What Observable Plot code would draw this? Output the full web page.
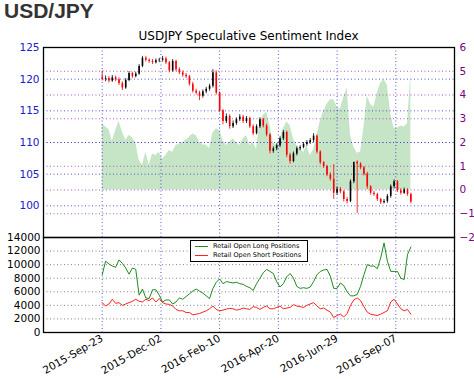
<!DOCTYPE html>
<html><head><meta charset="utf-8">
<script src="https://cdn.jsdelivr.net/npm/d3@7"></script>
<script src="https://cdn.jsdelivr.net/npm/@observablehq/plot@0.6"></script>
<style>
body{margin:0;background:#fff}
#wrap{position:relative;width:474px;height:379px;overflow:hidden;font-family:"DejaVu Sans",sans-serif}
#wrap svg.layer{position:absolute;left:0;top:0}
#hdr{position:absolute;left:4px;top:0px;line-height:21px;font:bold 21px/21px "Liberation Sans",Arial,sans-serif;color:#333}
#ttl{position:absolute;left:43px;width:411px;top:29px;text-align:center;font:12px "DejaVu Sans",sans-serif;color:#000}
#legend{position:absolute;left:190px;top:240px;width:118px;height:22px;border:1px solid #000;background:#fff;box-sizing:border-box;font:6.5px "DejaVu Sans",sans-serif}
#legend .row{position:absolute;left:4px;height:8px;line-height:8px;white-space:nowrap}
#legend .sw{display:inline-block;width:13px;height:0;vertical-align:middle;margin-right:5px}
</style></head>
<body>
<div id="wrap">
  <div id="hdr">USD/JPY</div>
  <div id="ttl">USDJPY Speculative Sentiment Index</div>
</div>
<script>
// ---- data (one value every 4 calendar days starting 2015-09-23) ----
const seriesStart = "2015-09-23";
const stepDays = 4;
const priceOpen = [120.3,120.0,120.1,119.7,120.2,119.9,119.3,118.6,119.8,120.9,
120.4,120.8,122.0,123.3,123.0,122.8,122.6,122.9,123.0,123.2,
122.6,121.3,122.8,121.5,121.0,120.6,120.4,119.2,118.1,117.8,
117.3,118.0,118.4,118.9,121.0,117.8,115.0,113.3,114.1,112.5,
113.0,113.6,114.0,113.3,113.8,112.5,111.4,112.5,113.6,112.6,
111.2,108.6,109.0,109.5,110.6,111.6,108.0,107.0,108.2,109.0,
109.2,109.7,110.0,110.3,111.0,108.5,106.8,106.2,104.9,104.2,
102.0,102.6,102.2,101.0,100.7,103.8,106.9,106.6,106.0,105.0,
103.0,102.0,101.8,101.0,100.5,100.7,101.5,103.0,103.8,102.4,
102.0,102.5,101.8];
const priceHigh = [121.3,120.5,120.4,120.6,120.5,120.2,119.6,120.1,121.2,121.1,
121.1,122.3,123.6,123.6,123.2,123.1,123.2,123.3,123.6,123.5,
122.8,123.1,123.0,121.8,121.3,120.9,120.6,119.5,118.4,118.1,
118.3,118.7,119.2,121.5,121.3,118.0,115.2,114.5,114.4,113.4,
113.9,114.4,114.3,114.1,114.0,112.8,112.8,113.9,113.8,112.9,
111.4,109.3,109.8,110.9,111.9,111.8,108.3,108.5,109.3,109.5,
110.0,110.3,110.6,111.4,111.2,108.7,107.0,106.4,105.2,106.5,
103.0,102.9,102.4,101.3,104.1,106.3,107.1,106.8,106.2,105.3,
103.2,102.3,102.0,101.2,101.0,101.8,103.3,104.1,104.0,102.7,
102.8,102.7,102.0];
const priceLow = [119.7,119.6,119.4,119.5,119.6,119.0,118.2,118.4,119.6,120.1,
120.2,120.6,121.8,122.7,122.5,122.3,122.4,122.6,122.7,122.3,
121.0,121.1,121.2,120.7,120.3,120.1,118.9,117.8,117.5,116.6,
117.0,117.7,118.1,118.6,117.5,114.7,112.8,113.0,112.1,112.2,
112.7,113.3,113.0,113.0,112.2,111.1,111.2,112.2,112.3,110.9,
108.2,108.3,108.7,109.2,110.3,107.6,106.6,106.8,107.9,108.7,
109.0,109.4,109.7,110.0,108.2,106.5,105.9,104.6,103.9,101.0,
101.7,101.9,100.6,100.3,100.5,103.5,98.8,105.7,104.7,102.6,
101.7,101.5,100.7,100.2,100.3,100.4,101.2,102.7,102.1,101.7,
101.8,101.5,100.3];
const priceClose = [120.0,120.1,119.7,120.2,119.9,119.3,118.6,119.8,120.9,120.4,
120.8,122.0,123.3,123.0,122.8,122.6,122.9,123.0,123.2,122.6,
121.3,122.8,121.5,121.0,120.6,120.4,119.2,118.1,117.8,117.3,
118.0,118.4,118.9,121.0,117.8,115.0,113.3,114.1,112.5,113.0,
113.6,114.0,113.3,113.8,112.5,111.4,112.5,113.6,112.6,111.2,
108.6,109.0,109.5,110.6,111.6,108.0,107.0,108.2,109.0,109.2,
109.7,110.0,110.3,111.0,108.5,106.8,106.2,104.9,104.2,102.0,
102.6,102.2,101.0,100.7,103.8,106.9,106.6,106.0,105.0,103.0,
102.0,101.8,101.0,100.5,100.7,101.5,103.0,103.8,102.4,102.0,
102.5,101.8,100.6];
const sentiment = [2.79,2.65,2.55,2.05,2.50,2.90,2.45,2.10,2.30,2.20,
2.00,1.25,1.05,1.59,1.05,1.52,1.45,1.59,1.31,1.45,
1.66,1.59,1.87,1.94,2.01,2.08,2.22,2.36,2.29,2.01,
1.90,1.90,1.75,2.40,2.58,2.50,2.10,1.87,2.00,2.15,
2.00,1.87,2.15,2.29,1.87,2.00,1.72,2.86,3.14,3.28,
2.72,2.00,1.87,2.15,2.58,2.86,2.72,2.15,1.87,1.72,
1.58,1.87,1.45,1.70,2.30,2.90,3.30,3.60,3.80,3.80,
3.50,3.40,3.90,4.30,2.30,1.80,1.55,1.60,2.60,3.95,
3.60,3.50,4.10,4.50,4.65,4.40,3.20,2.60,2.60,2.70,
2.65,2.80,4.90];
const longPositions = [8500,10500,10100,9800,9600,10700,10200,9500,8600,9500,
9300,5500,6400,5100,5000,6300,6300,5500,4500,4800,
4800,4200,4500,5100,4900,5300,5700,6100,6400,6100,
5800,5400,5000,6500,7400,7900,7200,7500,7400,7300,
7400,7200,7100,6800,6600,6200,7200,8000,8800,9300,
9000,8700,7500,6700,7200,8200,8700,8000,6800,6500,
6600,6500,6700,7500,8500,9000,9200,9300,8300,6500,
6500,7300,6900,6000,5400,5400,5600,6800,8500,10000,
9800,9800,9400,11000,13200,10500,9000,9000,9000,8000,
7800,11500,12600];
const shortPositions = [4400,3900,4200,4900,4300,4400,4000,4200,4400,4600,
4900,4600,4500,4900,4700,5100,4500,5000,4400,4200,
4150,3900,3400,3200,3200,2950,2950,2600,2700,2800,
3000,3200,3500,3900,3400,3200,3300,3450,3550,3500,
3300,3400,3600,3500,3400,3800,3700,3400,3700,3900,
3500,3500,3700,3900,3500,3600,3700,4100,3900,3800,
3700,4000,4200,4400,3900,3500,3600,3300,3000,2200,
2500,2700,2300,2800,4000,4800,5100,4700,3800,3000,
2700,2600,2500,2700,2950,3200,4500,4900,4200,3500,
3200,3400,2700];
const dateTickLabels = ["2015-09-23","2015-12-02","2016-02-10","2016-04-20","2016-06-29","2016-09-07"];
const xRange = ["2015-07-15","2016-11-16"];
const priceTicks = [100,105,110,115,120,125];
const sentimentTicks = [-2,-1,0,1,2,3,4,5,6];
const positionTicks = [0,2000,4000,6000,8000,10000,12000,14000];

// ---- build ----
const parse = d3.timeParse("%Y-%m-%d");
const t0 = parse(seriesStart);
const rows = priceClose.map((c, i) => ({
  date: d3.timeDay.offset(t0, i * stepDays),
  open: priceOpen[i], high: priceHigh[i], low: priceLow[i], close: c,
  color: c >= priceOpen[i] ? "#000000" : "#ff0000",
  sent: sentiment[i], long: longPositions[i], short: shortPositions[i]
}));
const tickDates = dateTickLabels.map(parse);
const xDomain = xRange.map(parse);
const W = 474, H = 379, ML = 43, MR = 20;
const blueGrid = {stroke: "#3a3ad0", strokeDasharray: "1,2.5", strokeOpacity: 0.85, strokeWidth: 1};
const baseStyle = {background: "transparent", fontFamily: "DejaVu Sans, sans-serif", fontSize: "10px", overflow: "visible"};

const sentPlot = Plot.plot({
  width: W, height: H, marginLeft: ML, marginRight: MR, marginTop: 47, marginBottom: 142,
  style: {...baseStyle, color: "#800080"},
  x: {type: "time", domain: xDomain, axis: null},
  y: {domain: [-2, 6], axis: null},
  marks: [
    Plot.areaY(rows, {x: "date", y: "sent", fill: "#c6e4c6"}),
    Plot.gridY(sentimentTicks, {stroke: "#a040b8", strokeDasharray: "1,2.5", strokeOpacity: 0.85, strokeWidth: 1}),
    Plot.axisY(sentimentTicks, {anchor: "right", label: null, tickSize: 0, tickPadding: 5, fontSize: 10.5})
  ]
});

const pricePlot = Plot.plot({
  width: W, height: H, marginLeft: ML, marginRight: MR, marginTop: 47, marginBottom: 142,
  style: {...baseStyle, color: "#2020c8"},
  color: {type: "identity"},
  x: {type: "time", domain: xDomain, axis: null},
  y: {domain: [95, 125], axis: null},
  marks: [
    Plot.gridY(priceTicks, blueGrid),
    Plot.gridX(tickDates, blueGrid),
    Plot.ruleX(rows, {x: "date", y1: "low", y2: "high", stroke: "color", strokeWidth: 0.8}),
    Plot.ruleX(rows, {x: "date", y1: "open", y2: "close", stroke: "color", strokeWidth: 1.6}),
    Plot.axisY(priceTicks, {anchor: "left", label: null, tickSize: 0, tickPadding: 4, fontSize: 10.5}),
    Plot.frame({stroke: "#000", strokeWidth: 1.3})
  ]
});

const posPlot = Plot.plot({
  width: W, height: H, marginLeft: ML, marginRight: MR, marginTop: 237, marginBottom: 47,
  style: {...baseStyle, color: "#000"},
  x: {type: "time", domain: xDomain, axis: null},
  y: {domain: [0, 14000], axis: null},
  marks: [
    Plot.gridY(positionTicks, {stroke: "#777", strokeDasharray: "1,2.5", strokeOpacity: 0.9, strokeWidth: 1}),
    Plot.gridX(tickDates, blueGrid),
    Plot.lineY(rows, {x: "date", y: "long", stroke: "#1f8a1f", strokeWidth: 1}),
    Plot.lineY(rows, {x: "date", y: "short", stroke: "#ff2020", strokeWidth: 1}),
    Plot.axisY(positionTicks, {anchor: "left", label: null, tickSize: 0, tickPadding: 3, fontSize: 10.5, tickFormat: d => String(d)}),
    Plot.axisX(tickDates, {anchor: "bottom", label: null, tickSize: 0, tickPadding: 5, tickRotate: -30, fontSize: 10.5, tickFormat: d3.timeFormat("%Y-%b-%d")}),
    Plot.frame({stroke: "#000", strokeWidth: 1.3})
  ]
});

const wrap = document.getElementById("wrap");
for (const p of [sentPlot, pricePlot, posPlot]) {
  p.classList.add("layer");
  wrap.insertBefore(p, document.getElementById("hdr"));
}

const legend = document.createElement("div");
legend.id = "legend";
legend.innerHTML =
  '<div class="row" style="top:1px"><span class="sw" style="border-top:1px solid #1f8a1f"></span>Retail Open Long Positions</div>' +
  '<div class="row" style="top:10px"><span class="sw" style="border-top:1px solid #ff2020"></span>Retail Open Short Positions</div>';
wrap.appendChild(legend);
</script>
</body></html>
